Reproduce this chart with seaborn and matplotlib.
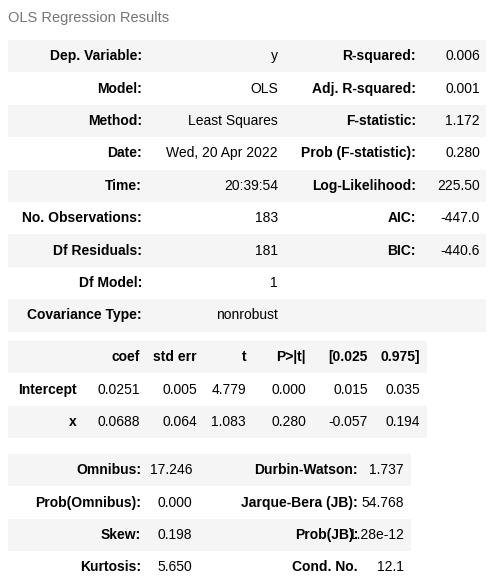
import matplotlib
matplotlib.use("Agg")
import matplotlib.pyplot as plt
import seaborn as sns
from matplotlib.patches import Rectangle

sns.set_theme(style="white")
plt.rcParams['font.family'] = ['Liberation Sans', 'DejaVu Sans']

# top summary table: (label, value, label, value)
top_left_labels = ["Dep. Variable:", "Model:", "Method:", "Date:", "Time:",
                   "No. Observations:", "Df Residuals:", "Df Model:", "Covariance Type:"]
top_left_values = ["y", "OLS", "Least Squares", "Wed, 20 Apr 2022", "20:39:54",
                   "183", "181", "1", "nonrobust"]
top_right_labels = ["R-squared:", "Adj. R-squared:", "F-statistic:", "Prob (F-statistic):",
                    "Log-Likelihood:", "AIC:", "BIC:", "", ""]
top_right_values = ["0.006", "0.001", "1.172", "0.280", "225.50", "-447.0", "-440.6", "", ""]

# coefficient table
coef_header = ["coef", "std err", "t", "P>|t|", "[0.025", "0.975]"]
coef_rows = ["Intercept", "x"]
coef_values = [["0.0251", "0.005", "4.779", "0.000", "0.015", "0.035"],
               ["0.0688", "0.064", "1.083", "0.280", "-0.057", "0.194"]]

# diagnostics table
diag_left_labels = ["Omnibus:", "Prob(Omnibus):", "Skew:", "Kurtosis:"]
diag_left_values = ["17.246", "0.000", "0.198", "5.650"]
diag_right_labels = ["Durbin-Watson:", "Jarque-Bera (JB):", "Prob(JB):", "Cond. No."]
diag_right_values = ["1.737", "54.768", "1.28e-12", "12.1"]

W, H = 490, 583
fig = plt.figure(figsize=(W / 100, H / 100), dpi=100)
ax = fig.add_axes([0, 0, 1, 1])
ax.set_xlim(0, W)
ax.set_ylim(H, 0)
ax.axis("off")

GRAY = "#f5f5f5"
FS = 10
RH = 32.4


def stripe(y0, x0, x1, n, first_gray=True):
    for i in range(n):
        if (i % 2 == 0) == first_gray:
            ax.add_patch(Rectangle((x0, y0 + i * RH), x1 - x0, RH, color=GRAY, lw=0))


def cell(x, y, s, bold=False):
    ax.text(x, y, s, ha="right", va="center", fontsize=FS, color="black",
            fontweight="bold" if bold else "normal")


ax.text(8, 18, "OLS Regression Results", ha="left", va="center", fontsize=10.5, color="#757575")

# table 1
y0 = 40
stripe(y0, 8, 486, 9)
for i in range(9):
    yc = y0 + (i + 0.5) * RH
    cell(142, yc, top_left_labels[i], True)
    cell(278, yc, top_left_values[i])
    cell(416, yc, top_right_labels[i], True)
    cell(480, yc, top_right_values[i])

# table 2
y0 = 341
stripe(y0, 8, 427, 3)
col_x = [140, 197, 246, 306, 368, 420]
for j, h in enumerate(coef_header):
    cell(col_x[j], y0 + 0.5 * RH, h, True)
for i, r in enumerate(coef_rows):
    yc = y0 + (i + 1.5) * RH
    cell(77, yc, r, True)
    for j, v in enumerate(coef_values[i]):
        cell(col_x[j], yc, v)

# table 3
y0 = 454
stripe(y0, 8, 411, 4)
for i in range(4):
    yc = y0 + (i + 0.5) * RH
    cell(141, yc, diag_left_labels[i], True)
    cell(192, yc, diag_left_values[i])
    cell(358, yc, diag_right_labels[i], True)
    cell(404, yc, diag_right_values[i])

fig.savefig("out.png", dpi=100, facecolor="white")
